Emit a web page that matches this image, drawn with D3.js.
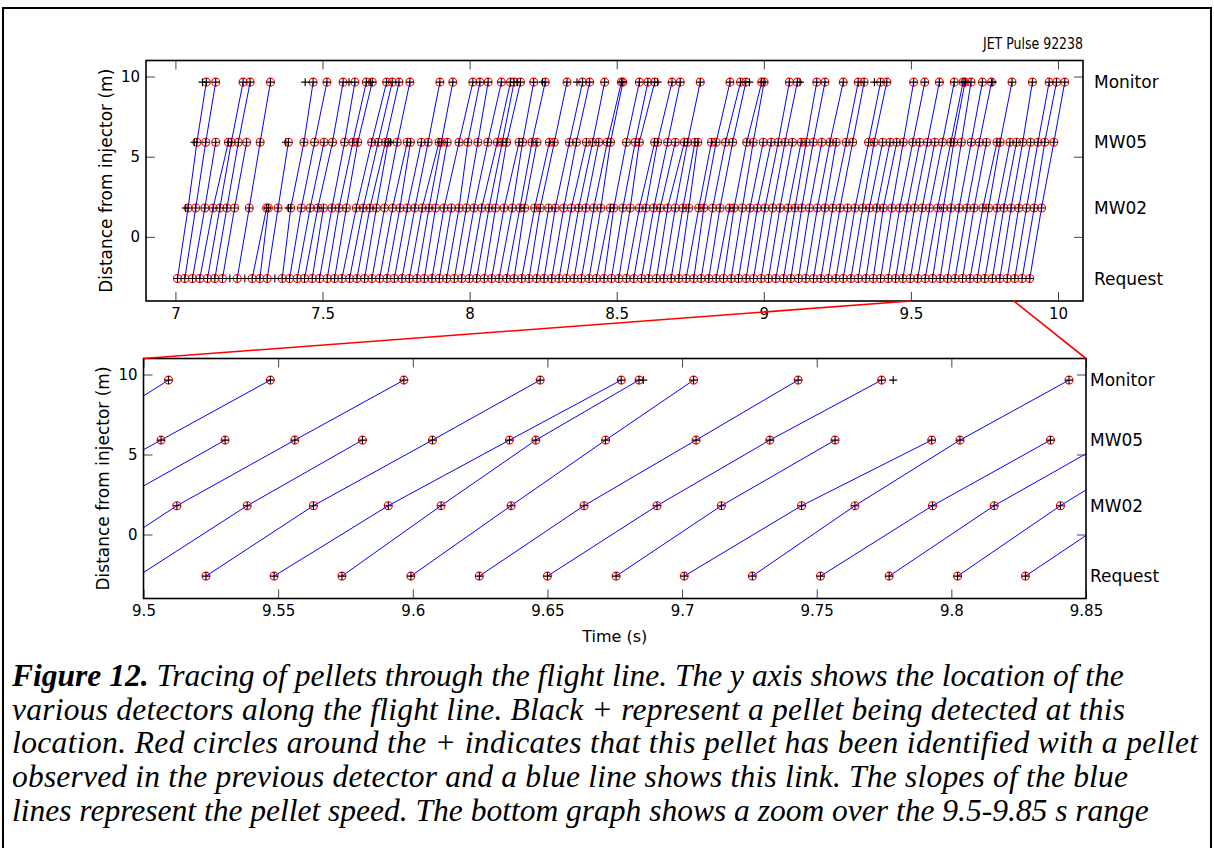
<!DOCTYPE html>
<html><head><meta charset="utf-8">
<script src="https://cdn.jsdelivr.net/npm/d3@7"></script>
<style>body{margin:0;background:#fff} svg{display:block}</style>
</head><body><svg id="c" width="1214" height="848"></svg>
<script>
// ---------------- data ----------------
const detectorNames = ["Request", "MW02", "MW05", "Monitor"];
const detectorPos = [-2.6, 1.8, 5.9, 9.65];

// one entry per traced pellet: time (s) seen at each detector (null = not seen)
const pelletRequest = [
  7.007, 7.032, 7.058, 7.083, 7.109, 7.134, 7.160, 7.210, 7.261, 7.287,
  7.312, 7.363, 7.388, 7.414, 7.439, 7.465, 7.490, 7.516, 7.541, 7.566,
  7.592, 7.617, 7.643, 7.668, 7.694, 7.719, 7.744, 7.770, 7.795, 7.821,
  7.846, 7.872, 7.897, 7.922, 7.948, 7.973, 7.999, 8.024, 8.050, 8.075,
  8.100, 8.126, 8.151, 8.177, 8.202, 8.228, 8.253, 8.279, 8.304, 8.329,
  8.355, 8.380, 8.406, 8.431, 8.457, 8.482, 8.507, 8.533, 8.558, 8.584,
  8.609, 8.635, 8.660, 8.685, 8.711, 8.736, 8.762, 8.787, 8.813, 8.838,
  8.863, 8.889, 8.914, 8.940, 8.965, 8.991, 9.016, 9.041, 9.067, 9.092,
  9.118, 9.143, 9.169, 9.194, 9.219, 9.245, 9.270, 9.296, 9.321, 9.347,
  9.372, 9.397, 9.423, 9.448, 9.4726, 9.4979, 9.5232, 9.5485, 9.5737, 9.5993,
  9.6247, 9.6500, 9.6755, 9.7008, 9.7261, 9.7514, 9.7769, 9.8023, 9.8275, 9.853,
  9.878, 9.904
];
const pelletMW02 = [
  7.043, 7.069, 7.100, 7.128, 7.151, 7.175, 7.201, 7.251, 7.310, 7.316,
  7.349, 7.392, 7.428, 7.458, 7.484, 7.503, 7.532, 7.556, 7.581, 7.615,
  7.638, 7.661, 7.683, 7.711, 7.738, 7.763, 7.788, 7.814, 7.839, 7.862,
  7.884, 7.913, 7.938, 7.964, 7.989, 8.015, 8.041, 8.066, 8.088, 8.117,
  8.145, 8.171, 8.187, 8.221, 8.240, 8.269, 8.291, 8.320, 8.346, 8.371,
  8.395, 8.422, 8.446, 8.478, 8.490, 8.521, 8.546, 8.577, 8.599, 8.626,
  8.648, 8.673, 8.699, 8.725, 8.745, 8.779, 8.796, 8.826, 8.851, 8.883,
  8.899, 8.927, 8.953, 8.978, 9.004, 9.030, 9.055, 9.083, 9.106, 9.129,
  9.155, 9.182, 9.208, 9.234, 9.259, 9.285, 9.310, 9.336, 9.359, 9.384,
  9.406, 9.435, 9.462, 9.487, 9.5124, 9.5385, 9.5631, 9.5909, 9.6105, 9.6365,
  9.6636, 9.6907, 9.7146, 9.7444, 9.7642, 9.7930, 9.8159, 9.8405, 9.8665, 9.893,
  9.919, 9.944
];
const pelletMW05 = [
  7.073, 7.103, 7.137, 7.180, 7.190, 7.214, 7.242, 7.288, null, null,
  7.384, 7.437, 7.473, 7.505, 7.534, null, 7.575, 7.603, 7.620, 7.667,
  7.689, 7.714, 7.723, 7.754, 7.788, 7.799, 7.836, 7.859, 7.896, 7.904,
  7.924, 7.964, null, 7.994, 8.028, 8.062, 8.094, 8.111, 8.126, 8.168,
  8.180, 8.212, 8.229, 8.271, 8.288, null, 8.339, 8.363, 8.397, 8.418,
  8.439, 8.468, 8.479, null, 8.533, 8.563, 8.577, 8.629, 8.639, 8.673,
  8.699, 8.730, 8.741, 8.766, 8.776, 8.822, 8.838, 8.870, 8.894, null,
  8.942, 8.964, 8.998, 9.025, 9.049, 9.072, 9.097, 9.127, 9.144, 9.168,
  9.197, 9.225, 9.246, 9.280, 9.302, null, 9.356, 9.375, 9.404, 9.429,
  9.452, 9.474, 9.5065, 9.5303, 9.5562, 9.5813, 9.6073, 9.6359, 9.6457, 9.6716,
  9.7052, 9.7326, 9.7568, 9.7927, 9.8032, 9.8368, 9.859, 9.880, 9.907, 9.932,
  9.955, 9.986
];
const pelletMonitor = [
  7.105, 7.137, null, null, 7.230, 7.254, null, 7.323, null, null,
  null, 7.468, 7.515, null, 7.570, null, 7.610, 7.649, 7.669, 7.718,
  7.737, 7.760, null, 7.797, null, null, null, 7.899, null, 7.943,
  null, 8.011, null, 8.035, 8.063, 8.108, 8.139, 8.151, 8.173, null,
  8.218, 8.257, null, null, 8.331, null, 8.384, 8.408, null, 8.459,
  null, 8.516, 8.521, null, 8.577, 8.606, 8.629, null, 8.688, 8.716,
  null, null, 8.784, null, null, null, 8.885, 8.921, 8.939, null,
  8.993, 9.001, null, null, 9.087, 9.114, null, null, 9.180, 9.208,
  null, 9.270, null, 9.321, 9.341, null, 9.397, 9.418, null, null,
  null, 9.5093, 9.5471, null, 9.5967, null, 9.6473, 9.6774, 9.6840, 9.7043,
  9.7431, 9.7741, null, null, 9.8437, null, null, 9.913, null, 9.970,
  9.995, 10.023
];
// detections not linked to any pellet (black + only)
const strayRequest = [7.185, 7.236, 7.338];
const strayMW02 = [7.035, 7.384];
const strayMW05 = [7.064, 7.375, 7.731];
const strayMonitor = [7.092, 7.441, 7.590, 7.662, 8.162, 8.248, 8.365, 8.639, 8.951, 9.123, 9.376, 9.6856, 9.7784];

const topXTicks = [7, 7.5, 8, 8.5, 9, 9.5, 10];
const bottomXTicks = [9.5, 9.55, 9.6, 9.65, 9.7, 9.75, 9.8, 9.85];
const yTicks = [0, 5, 10];
const zoomRange = [9.5, 9.85];

const captionLines = [
  ["Figure 12.", " Tracing of pellets through the flight line. The y axis shows the location of the"],
  ["", "various detectors along the flight line. Black + represent a pellet being detected at this"],
  ["", "location. Red circles around the + indicates that this pellet has been identified with a pellet"],
  ["", "observed in the previous detector and a blue line shows this link. The slopes of the blue"],
  ["", "lines represent the pellet speed. The bottom graph shows a zoom over the 9.5-9.85 s range"]
];
const captionWidths = [null, 1113, 1186, 1116, null];

// ---------------- drawing ----------------
const svg = d3.select("#c");
const FONT = "DejaVu Sans, Verdana, sans-serif";

// outer frame (cell border: top, left, right)
svg.append("rect").attr("x", 3).attr("y", 8).attr("width", 1208).attr("height", 900)
  .attr("fill", "none").attr("stroke", "#000").attr("stroke-width", 2);

const detectorLists = [pelletRequest, pelletMW02, pelletMW05, pelletMonitor];
const strayLists = [strayRequest, strayMW02, strayMW05, strayMonitor];

const pellets = pelletRequest.map((_, i) =>
  detectorLists.map((arr, d) => arr[i] == null ? null : {t: arr[i], y: detectorPos[d]}).filter(p => p));
const linkedPts = pellets.flat();
const strayPts = strayLists.flatMap((arr, d) => arr.map(t => ({t, y: detectorPos[d]})));

function panel(cfg, id) {
  const x = d3.scaleLinear().domain(cfg.xDomain).range([cfg.left, cfg.right]);
  const y = d3.scaleLinear().domain([-4, 11]).range([cfg.bottom, cfg.top]);
  const g = svg.append("g");
  svg.append("clipPath").attr("id", id).append("rect")
    .attr("x", cfg.left).attr("y", cfg.top).attr("width", cfg.right - cfg.left).attr("height", cfg.bottom - cfg.top);
  const plot = g.append("g").attr("clip-path", `url(#${id})`);
  const line = d3.line().x(d => x(d.t)).y(d => y(d.y));
  plot.selectAll("path.lnk").data(pellets.filter(p => p.length > 1)).join("path")
    .attr("class", "lnk").attr("d", line).attr("fill", "none").attr("stroke", "#0000ff").attr("stroke-width", 1);
  plot.selectAll("circle").data(linkedPts).join("circle")
    .attr("cx", d => x(d.t)).attr("cy", d => y(d.y)).attr("r", 4)
    .attr("fill", "none").attr("stroke", "#ff0000").attr("stroke-width", 1.1);
  plot.selectAll("path.pl").data(linkedPts.concat(strayPts)).join("path")
    .attr("class", "pl").attr("transform", d => `translate(${x(d.t)},${y(d.y)})`)
    .attr("d", "M-4,0H4M0,-4V4").attr("stroke", "#000").attr("stroke-width", 1.1);

  const tk = 9;
  const ax = (sel) => sel.selectAll(".domain").remove();
  g.append("g").attr("transform", `translate(0,${cfg.bottom})`)
    .call(d3.axisBottom(x).tickValues(cfg.xTicks).tickSize(-tk).tickPadding(7).tickFormat(d => String(d)))
    .call(ax).call(s => s.selectAll("text").attr("font-size", 15).attr("font-family", FONT).attr("fill", "#000"))
    .call(s => s.selectAll("line").attr("stroke", "#444"));
  g.append("g").attr("transform", `translate(0,${cfg.top})`)
    .call(d3.axisTop(x).tickValues(cfg.xTicks).tickSize(-tk).tickFormat(""))
    .call(ax).call(s => s.selectAll("line").attr("stroke", "#444"));
  g.append("g").attr("transform", `translate(${cfg.left},0)`)
    .call(d3.axisLeft(y).tickValues(yTicks).tickSize(-tk).tickPadding(6).tickFormat(d => String(d)))
    .call(ax).call(s => s.selectAll("text").attr("font-size", 15).attr("font-family", FONT).attr("fill", "#000"))
    .call(s => s.selectAll("line").attr("stroke", "#444"));
  g.append("g").attr("transform", `translate(${cfg.right},0)`)
    .call(d3.axisRight(y).tickValues(yTicks).tickSize(-tk).tickFormat(""))
    .call(ax).call(s => s.selectAll("line").attr("stroke", "#444"));
  g.append("rect").attr("x", cfg.left).attr("y", cfg.top)
    .attr("width", cfg.right - cfg.left).attr("height", cfg.bottom - cfg.top)
    .attr("fill", "none").attr("stroke", "#000").attr("stroke-width", 1.6);

  // detector labels on the right
  g.selectAll("text.det").data(detectorNames).join("text").attr("class", "det")
    .attr("x", cfg.right + cfg.labelGap).attr("y", (d, i) => y(detectorPos[i]))
    .attr("dy", "0.35em").attr("font-size", 17).attr("font-family", FONT).text(d => d);

  g.append("text").attr("transform", `translate(${cfg.left - 40},${(cfg.top + cfg.bottom) / 2}) rotate(-90)`)
    .attr("text-anchor", "middle").attr("dy", "0.35em").attr("font-size", 17).attr("font-family", FONT)
    .text("Distance from injector (m)");
  return {x, y};
}

const topPanel = panel({left: 146, right: 1083, top: 60.5, bottom: 301, xDomain: [6.9, 10.085], xTicks: topXTicks, labelGap: 11}, "clipTop");
const botPanel = panel({left: 143.5, right: 1086, top: 358.5, bottom: 598.5, xDomain: zoomRange, xTicks: bottomXTicks, labelGap: 4}, "clipBot");

// title
svg.append("text").attr("x", 983).attr("y", 49)
  .attr("font-size", 16).attr("font-family", FONT)
  .attr("textLength", 100).attr("lengthAdjust", "spacingAndGlyphs").text("JET Pulse 92238");

// x label bottom
svg.append("text").attr("x", (143.5 + 1086) / 2).attr("y", 642).attr("text-anchor", "middle")
  .attr("font-size", 16).attr("font-family", FONT).text("Time (s)");

// red zoom connectors
svg.append("line").attr("x1", topPanel.x(zoomRange[0])).attr("y1", 301).attr("x2", 143.5).attr("y2", 358.5)
  .attr("stroke", "#ff0000").attr("stroke-width", 1.6);
svg.append("line").attr("x1", topPanel.x(zoomRange[1])).attr("y1", 301).attr("x2", 1086).attr("y2", 358.5)
  .attr("stroke", "#ff0000").attr("stroke-width", 1.6);

// caption
captionLines.forEach((ln, i) => {
  const t = svg.append("text").attr("font-family", "Liberation Serif, Times New Roman, serif")
    .attr("font-style", "italic").attr("font-size", 31.5).attr("x", 12).attr("y", 686 + i * 33.7);
  if (captionWidths[i]) t.attr("textLength", captionWidths[i]).attr("lengthAdjust", "spacing");
  if (ln[0]) t.append("tspan").attr("font-weight", "bold").text(ln[0]);
  t.append("tspan").text(ln[1]);
});
</script>
</body></html>
